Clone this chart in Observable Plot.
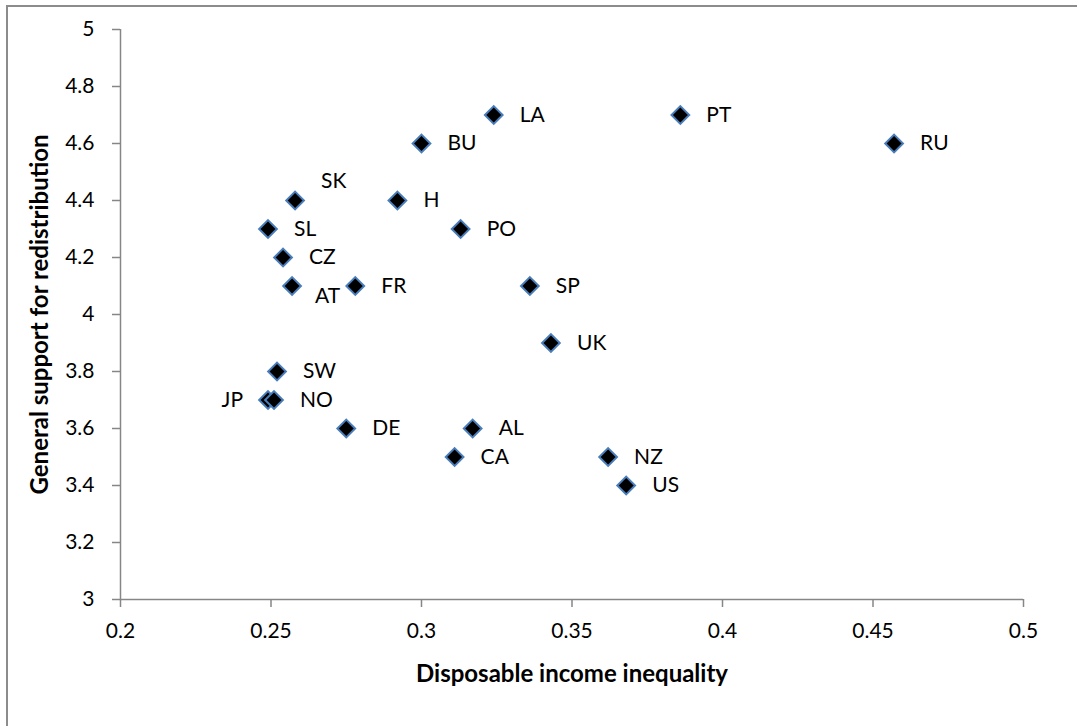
<!DOCTYPE html>
<html>
<head>
<meta charset="utf-8">
<script src="https://cdn.jsdelivr.net/npm/d3@7"></script>
<script src="https://cdn.jsdelivr.net/npm/@observablehq/plot@0.6"></script>
<style>
  html, body { margin: 0; padding: 0; background: #fff; }
  #wrap { position: relative; width: 1077px; height: 726px; overflow: hidden; }
  #border { position: absolute; left: 6px; top: 5px; width: 1200px; height: 900px; border: 2px solid #8c8c8c; box-sizing: border-box; }
  #chart { position: absolute; left: 0; top: 0; }
  #chart svg { font-family: Lato, "Open Sans", sans-serif; }
  g[aria-label="x-axis label"] text, g[aria-label="y-axis label"] text { font-weight: bold; font-size: 24px; }
</style>
</head>
<body>
<div id="wrap"><div id="border"></div><div id="chart"></div></div>
<script>
const codes = ["LA","PT","RU","BU","SK","H","SL","PO","CZ","AT","FR","SP","UK","SW","JP","NO","DE","AL","CA","NZ","US"];
const inequality = [0.324,0.386,0.457,0.300,0.258,0.292,0.249,0.313,0.254,0.257,0.278,0.336,0.343,0.252,0.249,0.251,0.275,0.317,0.311,0.362,0.368];
const support = [4.7,4.7,4.6,4.6,4.4,4.4,4.3,4.3,4.2,4.1,4.1,4.1,3.9,3.8,3.7,3.7,3.6,3.6,3.5,3.5,3.4];
const labelSide = ["right","right","right","right","above","right","right","right","right","below","right","right","right","right","left","right","right","right","right","right","right"];
const xTicks = [0.2,0.25,0.3,0.35,0.4,0.45,0.5];
const yTicks = [3,3.2,3.4,3.6,3.8,4,4.2,4.4,4.6,4.8,5];
const xTitle = "Disposable income inequality";
const yTitle = "General support for redistribution";

const data = codes.map((c, i) => ({code: c, x: inequality[i], y: support[i], side: labelSide[i]}));
const axisColor = "#868686";

const chart = Plot.plot({
  width: 1077,
  height: 726,
  marginLeft: 120,
  marginRight: 54,
  marginTop: 29,
  marginBottom: 127,
  x: {domain: [0.2, 0.5]},
  y: {domain: [3, 5]},
  marks: [
    Plot.ruleX([0.2], {stroke: axisColor, strokeWidth: 1.5}),
    Plot.ruleY([3], {stroke: axisColor, strokeWidth: 1.5}),
    Plot.axisX({ticks: xTicks, tickFormat: d => String(d), tickSize: 8, tickPadding: 16, stroke: axisColor, strokeWidth: 1.5, fontSize: 21, color: "#000",
      label: xTitle, labelAnchor: "center", labelArrow: "none", labelOffset: 82}),
    Plot.axisY({ticks: yTicks, tickFormat: d => String(d), tickSize: 8, tickPadding: 18, stroke: axisColor, strokeWidth: 1.5, fontSize: 21,
      label: yTitle, labelAnchor: "center", labelArrow: "none", labelOffset: 90}),
    Plot.dot(data, {x: "x", y: "y", symbol: "diamond2", r: 8, fill: "#000", stroke: "#4a7ebb", strokeWidth: 2}),
    Plot.text(data.filter(d => d.side === "right"), {x: "x", y: "y", text: "code", dx: 26, textAnchor: "start", fontSize: 21, fill: "#000"}),
    Plot.text(data.filter(d => d.side === "above"), {x: "x", y: "y", text: "code", dx: 26, dy: -19, textAnchor: "start", fontSize: 21, fill: "#000"}),
    Plot.text(data.filter(d => d.side === "below"), {x: "x", y: "y", text: "code", dx: 23, dy: 10, textAnchor: "start", fontSize: 21, fill: "#000"}),
    Plot.text(data.filter(d => d.side === "left"), {x: "x", y: "y", text: "code", dx: -25, textAnchor: "end", fontSize: 21, fill: "#000"})
  ]
});
document.getElementById("chart").appendChild(chart);
</script>
</body>
</html>
